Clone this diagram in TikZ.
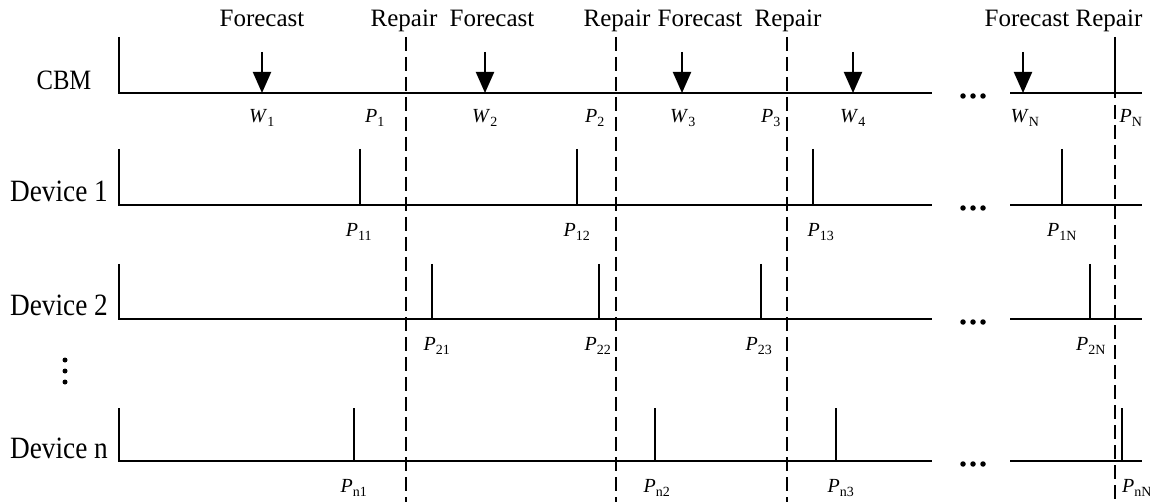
\documentclass[tikz,border=0pt]{standalone}
\usepackage{fontspec}
\setmainfont{Liberation Serif}
\newfontfamily\condfont[FakeStretch=0.88]{Liberation Serif}
\usetikzlibrary{arrows.meta}
\begin{document}
\begin{tikzpicture}[x=1pt,y=-1pt,
  axisline/.style={line width=2pt},
  spike/.style={line width=1.7pt},
  repairline/.style={line width=1.6pt, dash pattern=on 14pt off 6pt},
  fcarrow/.style={line width=2pt,-{Triangle[width=18pt,length=21pt]}},
  toplab/.style={font=\fontsize{25}{28}\selectfont, inner sep=0pt, anchor=base},
  rowlab/.style={font=\condfont\fontsize{31}{33}\selectfont, inner sep=0pt, anchor=base},
  plab/.style={font=\fontsize{20}{23}\selectfont, inner sep=0pt},
  ell/.style={circle, fill=black, inner sep=0pt, minimum size=5.5pt}
]
\useasboundingbox (0,0) rectangle (1150,502);

% rows: name / top / axis
\foreach \r/\t/\a in {c/37/93, a/149/205, b/264/319, n/408/461}{
  \coordinate (\r-top) at (119,\t);
  \coordinate (\r-o) at (119,\a);
  \coordinate (\r-e1) at (932,\a);
  \coordinate (\r-s2) at (1010,\a);
  \coordinate (\r-e2) at (1142,\a);
  \draw[axisline] (\r-top) -- (\r-o) -- (\r-e1);
  \draw[axisline] (\r-s2) -- (\r-e2);
  \node[ell] (\r-d1) at (963,\a+3) {};
  \node[ell] (\r-d2) at (973,\a+3) {};
  \node[ell] (\r-d3) at (983,\a+3) {};
}

% row labels
\node[rowlab] (lc) at (64,90) {\fontsize{28}{30}\selectfont CBM};
\node[rowlab] (la) at (59,202) {Device 1};
\node[rowlab] (lb) at (59,316) {Device 2};
\node[rowlab] (ln) at (59,458) {Device n};
\node[ell, minimum size=5pt] (v1) at (65,360) {};
\node[ell, minimum size=5pt] (v2) at (65,371) {};
\node[ell, minimum size=5pt] (v3) at (65,382) {};

% repair dashed lines
\foreach \i/\x in {1/406, 2/616, 3/787}{
  \coordinate (rt\i) at (\x,37);
  \coordinate (rb\i) at (\x,502);
  \draw[repairline] (rt\i) -- (rb\i);
}
\coordinate (rt4) at (1115,105);
\coordinate (rb4) at (1115,502);
\draw[repairline] (rt4) -- (rb4);
\coordinate (pNtop) at (1115,37);
\coordinate (pNbot) at (1115,98);
\draw[spike] (pNtop) -- (pNbot);

% top labels
\foreach \x in {262, 492, 700, 1027}{
  \node[toplab] at (\x,27) {Forecast};
}
\foreach \x in {404, 617, 788, 1109}{
  \node[toplab] at (\x,27) {Repair};
}

% forecast arrows
\foreach \i/\x in {1/262, 2/485, 3/682, 4/853, N/1023}{
  \coordinate (fs\i) at (\x,52);
  \coordinate (fe\i) at (\x,93);
  \draw[fcarrow] (fs\i) -- (fe\i);
}

% CBM labels
\foreach \s/\x in {1/262, 2/485, 3/683, 4/853, N/1025}{
  \node[plab] (w\s) at (\x,118) {\textit{W}\textsubscript{\s}};
}
\foreach \s/\x in {1/375, 2/595, 3/771, N/1131}{
  \node[plab] (p\s) at (\x,118) {\textit{P}\textsubscript{\s}};
}

% device spikes and labels
\foreach \r/\t/\a/\x/\lx/\s in {
  a/149/205/360/359/11, a/149/205/577/577/12, a/149/205/813/821/13, a/149/205/1062/1062/1N,
  b/264/319/432/437/21, b/264/319/599/598/22, b/264/319/761/759/23, b/264/319/1090/1091/2N,
  n/408/461/354/354/n1, n/408/461/655/657/n2, n/408/461/836/841/n3, n/408/461/1122/1137/nN}{
  \coordinate (sp\s-t) at (\x,\t);
  \coordinate (sp\s-b) at (\x,\a);
  \draw[spike] (sp\s-t) -- (sp\s-b);
  \node[plab] (lab\s) at (\lx,\a+27) {\textit{P}\textsubscript{\s}};
}
\end{tikzpicture}
\end{document}
